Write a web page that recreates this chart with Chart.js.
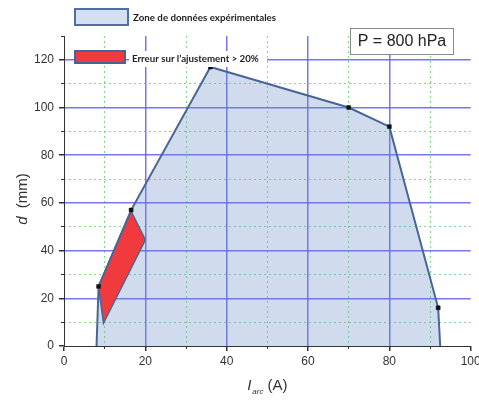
<!DOCTYPE html>
<html><head><meta charset="utf-8">
<script src="https://cdn.jsdelivr.net/npm/chart.js@4"></script>
<style>html,body{margin:0;padding:0;background:#fff;}#wrap{width:479px;height:400px;position:relative}</style>
</head><body><div id="wrap"><canvas id="c" width="479" height="400"></canvas></div>
<script>
// ---- Data ----
const zoneX = [8, 8.5, 16.5, 36, 70, 80, 92, 92.5];
const zoneY = [0, 25, 57, 117, 100, 92, 16, 0];
const mesureX = [8.5, 16.5, 36, 70, 80, 92];
const mesureY = [25, 57, 117, 100, 92, 16];
const erreurHautX = [8.5, 16.5, 20];
const erreurHautY = [25, 56.5, 44.5];
const erreurBasX = [8.5, 9.7, 20];
const erreurBasY = [25, 9.5, 44.5];
const xTickLabels = [0, 20, 40, 60, 80, 100];
const yTickLabels = [0, 20, 40, 60, 80, 100, 120];
const legendLabels = ['Zone de données expérimentales', 'Erreur sur l’ajustement > 20%'];
const pressureLabel = 'P = 800 hPa';

const pts = (xs, ys) => xs.map((x, i) => ({x, y: ys[i]}));

const EDGE = 'rgb(72,102,148)';
const MAJOR = 'rgba(95,95,240,0.85)';
const MINOR = 'rgba(110,210,110,0.85)';
const NONE = 'rgba(0,0,0,0)';

function majorGrid(limit) {
  return {
    color: c => (c.tick.value === 0 || c.tick.value === limit || c.tick.value % 20) ? NONE : MAJOR,
    lineWidth: 1.5,
    tickColor: '#333',
    tickLength: 5,
    drawTicks: true
  };
}
function minorGrid(limit) {
  return {
    color: c => (c.tick.value % 20 && c.tick.value !== limit) ? MINOR : NONE,
    lineWidth: 1,
    tickColor: c => (c.tick.value % 20 ? '#333' : NONE),
    tickLength: 3,
    drawTicks: true
  };
}

const overlay = {
  id: 'overlay',
  afterDraw(chart) {
    const ctx = chart.ctx;
    const ca = chart.chartArea;
    ctx.save();
    ctx.fillStyle = 'rgb(212,224,240)';
    ctx.strokeStyle = 'rgb(79,111,160)';
    ctx.lineWidth = 2;
    ctx.fillRect(75, 9, 53, 16);
    ctx.strokeRect(75, 9, 53, 16);
    ctx.fillStyle = '#fff';
    ctx.fillRect(129, 51, 138, 16);
    ctx.fillStyle = 'rgb(240,58,62)';
    ctx.strokeStyle = 'rgb(70,100,150)';
    ctx.fillRect(75, 51, 50, 12);
    ctx.strokeRect(75, 51, 50, 12);
    ctx.fillStyle = '#222';
    ctx.textBaseline = 'middle';
    ctx.textAlign = 'left';
    function fit(text, target, base) {
      ctx.font = `bold ${base}px Lato`;
      const w = ctx.measureText(text).width;
      return base * target / w;
    }
    let fs = fit(legendLabels[0], 143, 11);
    ctx.font = `bold ${fs.toFixed(2)}px Lato`;
    ctx.fillText(legendLabels[0], 133, 17.5);
    fs = fit(legendLabels[1], 127, 11);
    ctx.font = `bold ${fs.toFixed(2)}px Lato`;
    ctx.fillText(legendLabels[1], 132, 58.5);

    ctx.fillStyle = '#fff';
    ctx.fillRect(350.5, 28.5, 103, 26);
    ctx.strokeStyle = '#8a8a8a';
    ctx.lineWidth = 1;
    ctx.strokeRect(350.5, 28.5, 103, 26);
    ctx.fillStyle = '#222';
    ctx.font = '16px "Liberation Sans"';
    ctx.textAlign = 'center';
    ctx.fillText(pressureLabel, 402, 42);

    ctx.textAlign = 'left';
    ctx.textBaseline = 'alphabetic';
    ctx.fillStyle = '#333';
    const f1 = 'italic 15px "Liberation Sans"', f2 = 'italic 8px "Liberation Sans"', f3 = '15px "Liberation Sans"';
    ctx.font = f1; const wI = ctx.measureText('I').width;
    ctx.font = f2; const wS = ctx.measureText('arc').width;
    ctx.font = f3; const wA = ctx.measureText(' (A)').width;
    const tot = wI + 1 + wS + wA;
    let x0 = (ca.left + ca.right) / 2 - tot / 2;
    const by = 390;
    ctx.font = f1; ctx.fillText('I', x0, by); x0 += wI + 1;
    ctx.font = f2; ctx.fillText('arc', x0, by + 4); x0 += wS;
    ctx.font = f3; ctx.fillText(' (A)', x0, by);

    ctx.translate(27, 199);
    ctx.rotate(-Math.PI / 2);
    ctx.font = f1; const wd = ctx.measureText('d').width;
    ctx.font = f3; const wm = ctx.measureText('  (mm)').width;
    let y0 = -(wd + wm) / 2;
    ctx.font = f1; ctx.fillText('d', y0, 0);
    ctx.font = f3; ctx.fillText('  (mm)', y0 + wd, 0);
    ctx.restore();
  }
};

const tickFont = { family: '"Liberation Sans"', size: 12 };

new Chart(document.getElementById('c'), {
  type: 'scatter',
  data: {
    datasets: [
      { label: 'zone', data: pts(zoneX, zoneY), showLine: true, fill: 'origin',
        backgroundColor: 'rgba(100,140,195,0.3)', borderColor: EDGE, borderWidth: 2,
        pointRadius: 0, order: 4, tension: 0 },
      { label: 'erreurHaut', data: pts(erreurHautX, erreurHautY), showLine: true, fill: 2,
        backgroundColor: 'rgb(240,58,62)', borderColor: EDGE, borderWidth: 1.5,
        pointRadius: 0, order: 3 },
      { label: 'erreurBas', data: pts(erreurBasX, erreurBasY), showLine: true, fill: false,
        borderColor: EDGE, borderWidth: 1.5, pointRadius: 0, order: 2 },
      { label: 'mesures', data: pts(mesureX, mesureY), showLine: false,
        pointStyle: 'rect', pointRadius: 2.8, backgroundColor: '#111', borderColor: '#111',
        borderWidth: 0.5, order: 1 }
    ]
  },
  options: {
    responsive: false,
    devicePixelRatio: 1,
    animation: false,
    layout: { padding: { left: 0, top: 36, right: 8.3, bottom: 0 } },
    plugins: { legend: { display: false }, tooltip: { enabled: false }, title: { display: false } },
    scales: {
      xMinor: {
        type: 'linear', position: 'bottom', min: 0, max: 100, weight: 0,
        afterFit: s => { s.height = 0; s.paddingLeft = 0; s.paddingRight = 0; },
        ticks: { stepSize: 10, autoSkip: false, display: false },
        grid: minorGrid(100),
        border: { display: false, dash: [2, 3] }
      },
      yMinor: {
        type: 'linear', position: 'left', min: 0, max: 130, weight: 0,
        afterFit: s => { s.width = 0; s.paddingTop = 0; s.paddingBottom = 0; },
        ticks: { stepSize: 10, autoSkip: false, display: false },
        grid: minorGrid(130),
        border: { display: false, dash: [2, 3] }
      },
      x: {
        type: 'linear', position: 'bottom', min: 0, max: 100, weight: 1,
        afterFit: s => { s.height = 54; s.paddingLeft = 0; s.paddingRight = 0; },
        ticks: { stepSize: 10, autoSkip: false, maxRotation: 0, padding: 3, color: '#333',
          font: tickFont, callback: v => xTickLabels.includes(v) ? String(v) : '' },
        grid: Object.assign(majorGrid(100), { tickColor: c => (c.tick.value % 20 ? NONE : '#333') }),
        border: { color: '#333', width: 1 }
      },
      y: {
        type: 'linear', position: 'left', min: 0, max: 130, weight: 1,
        afterFit: s => { s.width = 64; s.paddingTop = 0; s.paddingBottom = 0; },
        ticks: { stepSize: 10, autoSkip: false, padding: 5, color: '#333',
          font: tickFont, callback: v => yTickLabels.includes(v) ? String(v) : '' },
        grid: Object.assign(majorGrid(130), { tickColor: c => (c.tick.value % 20 ? NONE : '#333') }),
        border: { color: '#333', width: 1 }
      }
    }
  },
  plugins: [overlay]
});
</script>
</body></html>
